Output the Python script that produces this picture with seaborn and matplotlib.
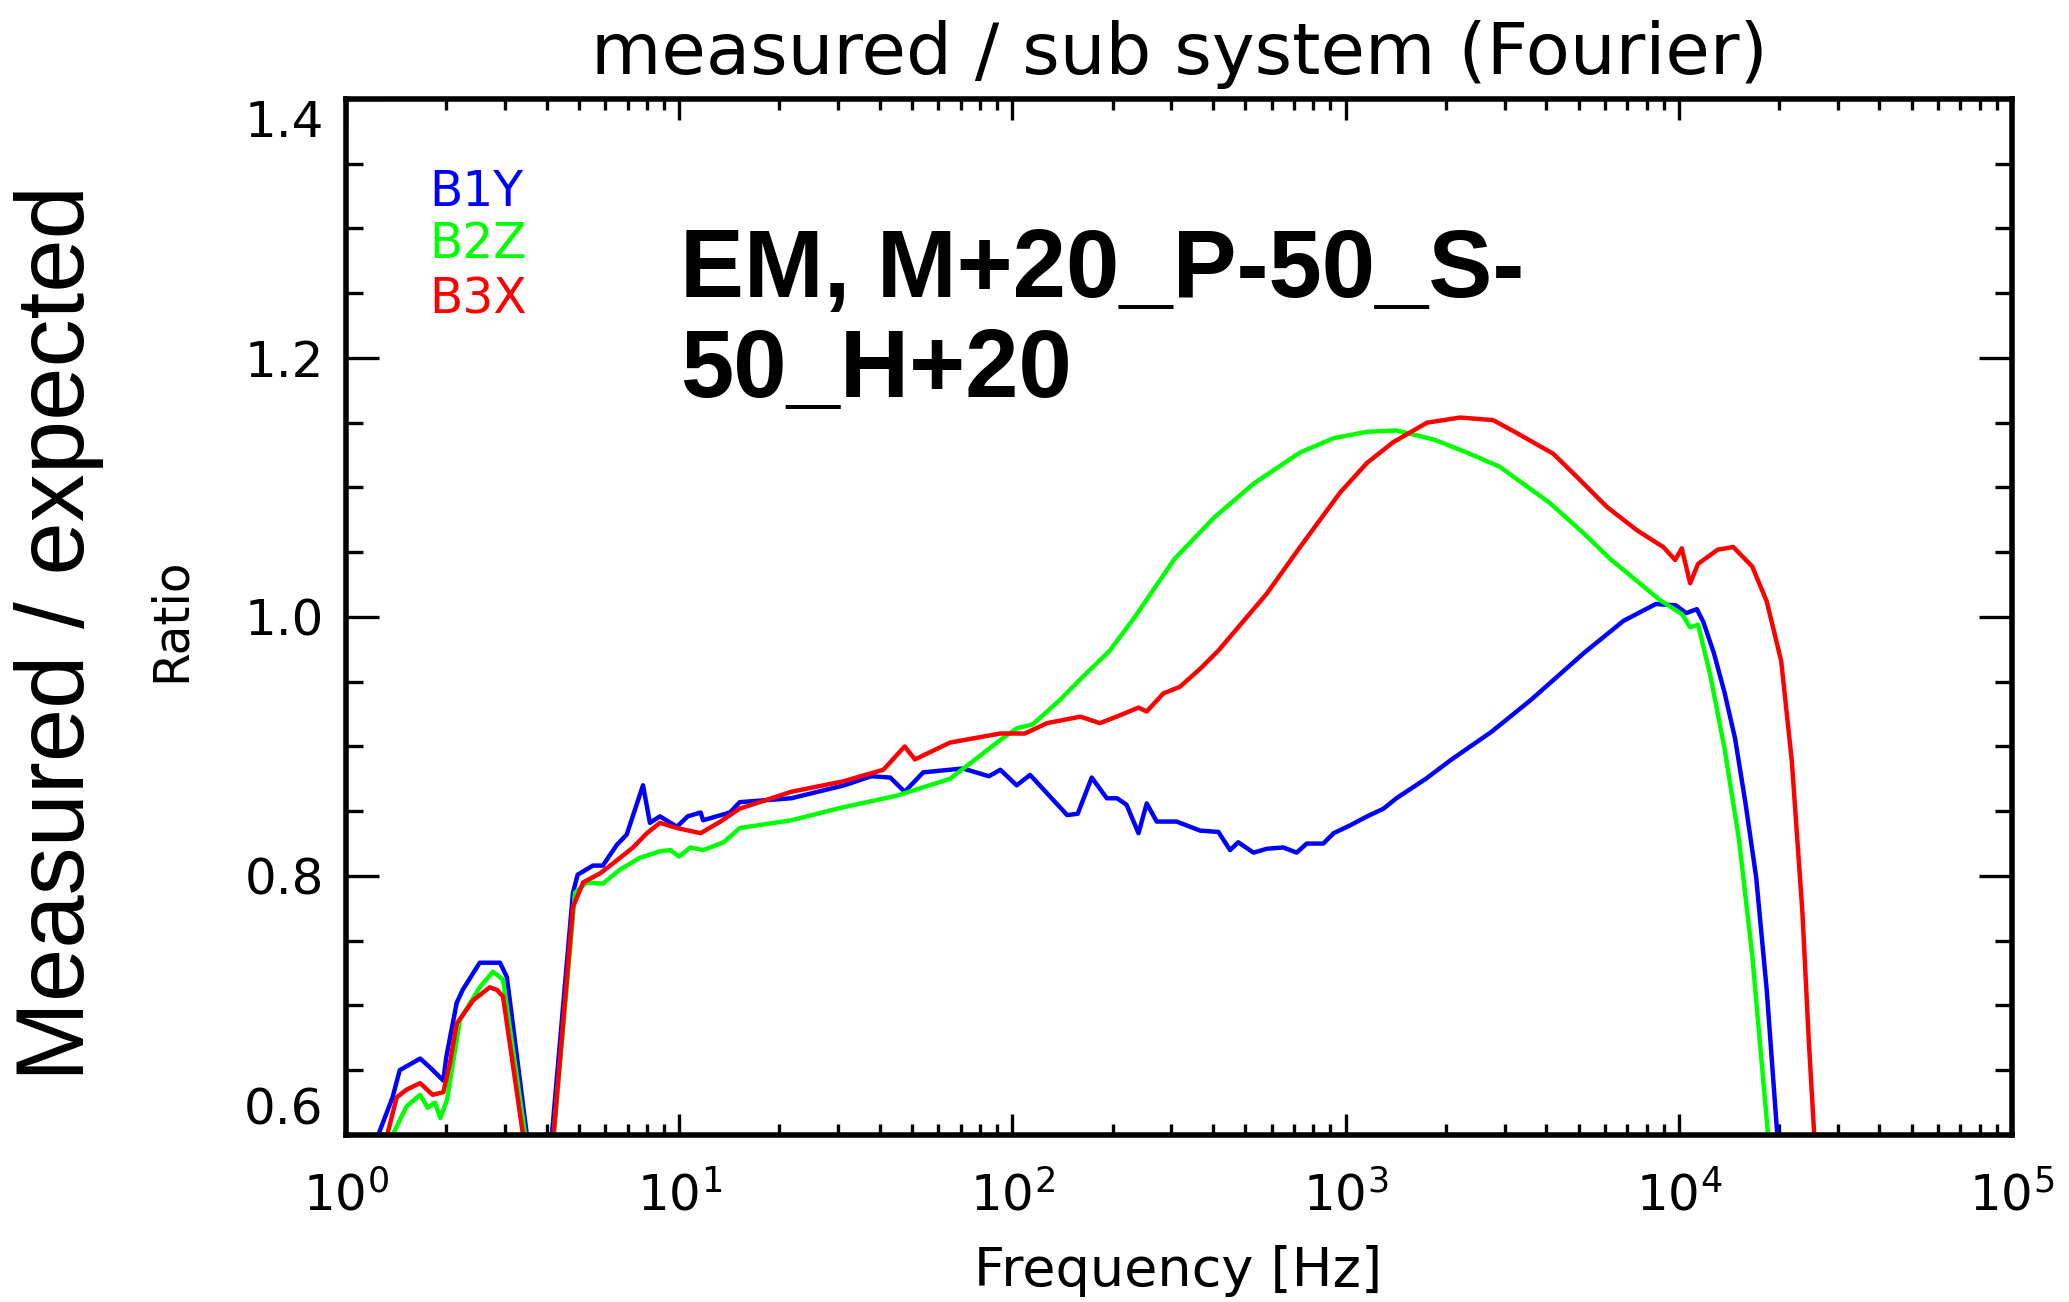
import numpy as np
import pandas as pd
import matplotlib
matplotlib.use("Agg")
import matplotlib.pyplot as plt
import seaborn as sns
from matplotlib.ticker import MultipleLocator, LogLocator, FixedLocator, NullFormatter

# --- data (frequency in Hz, ratio) ---
b1y_freq = [1.22, 1.25, 1.38, 1.45, 1.67, 1.79, 1.96, 2.0, 2.15, 2.24, 2.52, 2.9, 3.04, 3.49, 3.8,
            4.15, 4.8, 4.96, 5.51, 5.9, 6.5, 6.96, 7.79, 8.17, 8.75, 9.85, 10.6, 11.6, 11.8, 14.2,
            15.2, 21.7, 31.3, 37.7, 43, 47.5, 54, 71, 85, 92, 103, 113, 146, 157, 173, 192, 206,
            220, 239, 253, 271, 311, 366, 415, 450, 476, 529, 580, 650, 713, 764, 857, 920, 1030,
            1160, 1300, 1420, 1740, 2080, 2730, 3600, 5180, 6820, 8530, 9780, 10520, 11320, 11850,
            12740, 13700, 14750, 15850, 17060, 18350, 19740, 20500]
b1y_ratio = [0.59, 0.60, 0.629, 0.65, 0.659, 0.652, 0.642, 0.66, 0.702, 0.712, 0.733, 0.733, 0.722,
             0.60, 0.50, 0.60, 0.787, 0.801, 0.808, 0.808, 0.824, 0.832, 0.870, 0.841, 0.846, 0.838,
             0.846, 0.849, 0.843, 0.849, 0.857, 0.860, 0.870, 0.877, 0.876, 0.865, 0.880, 0.883,
             0.877, 0.882, 0.870, 0.878, 0.847, 0.848, 0.876, 0.860, 0.860, 0.855, 0.833, 0.856,
             0.842, 0.842, 0.835, 0.834, 0.820, 0.826, 0.818, 0.821, 0.822, 0.818, 0.825, 0.825,
             0.833, 0.839, 0.846, 0.852, 0.860, 0.875, 0.890, 0.911, 0.936, 0.972, 0.997, 1.010,
             1.009, 1.003, 1.006, 0.996, 0.972, 0.942, 0.906, 0.856, 0.799, 0.712, 0.600, 0.50]

b2z_freq = [1.36, 1.38, 1.52, 1.67, 1.76, 1.85, 1.92, 2.01, 2.2, 2.52, 2.76, 2.96, 3.45, 3.8, 4.2,
            4.87, 5.28, 5.9, 6.65, 7.62, 8.75, 9.4, 10.0, 10.8, 11.8, 13.6, 15.2, 21.7, 31, 45, 65,
            92, 103, 115, 139, 163, 196, 233, 307, 404, 530, 730, 920, 1160, 1420, 1840, 2310,
            2900, 4100, 5160, 6210, 8780, 10240, 10810, 11420, 12400, 13700, 15150, 16600, 18520,
            19500]
b2z_ratio = [0.59, 0.60, 0.622, 0.631, 0.621, 0.625, 0.613, 0.627, 0.689, 0.714, 0.726, 0.720, 0.60,
             0.50, 0.60, 0.787, 0.795, 0.794, 0.805, 0.814, 0.819, 0.820, 0.815, 0.822, 0.820, 0.826,
             0.837, 0.843, 0.853, 0.862, 0.875, 0.905, 0.914, 0.917, 0.936, 0.954, 0.974, 1.000,
             1.045, 1.077, 1.103, 1.127, 1.138, 1.143, 1.144, 1.137, 1.127, 1.116, 1.088, 1.065,
             1.045, 1.013, 1.002, 0.992, 0.994, 0.956, 0.899, 0.828, 0.739, 0.600, 0.50]

b3x_freq = [1.31, 1.33, 1.42, 1.52, 1.67, 1.82, 1.96, 2.05, 2.15, 2.41, 2.70, 2.84, 2.96, 3.40, 3.8,
            4.2, 4.8, 5.15, 5.79, 6.5, 7.27, 8.0, 8.75, 9.85, 11.6, 13.3, 15.2, 21.7, 31, 41, 47.5,
            51, 65, 92, 109, 127, 160, 183, 210, 239, 253, 284, 318, 366, 415, 580, 730, 962, 1160,
            1390, 1755, 2205, 2770, 3265, 4200, 4950, 6080, 7480, 8980, 9750, 10200, 10810, 11420,
            13090, 14560, 16600, 18350, 20280, 21820, 23480, 24550, 25480, 26000]
b3x_ratio = [0.59, 0.60, 0.629, 0.635, 0.640, 0.631, 0.633, 0.655, 0.686, 0.704, 0.714, 0.712, 0.707,
             0.60, 0.50, 0.60, 0.776, 0.795, 0.802, 0.812, 0.822, 0.833, 0.841, 0.837, 0.833, 0.842,
             0.852, 0.865, 0.873, 0.882, 0.900, 0.890, 0.903, 0.910, 0.910, 0.918, 0.923, 0.918,
             0.924, 0.930, 0.927, 0.941, 0.946, 0.960, 0.974, 1.018, 1.054, 1.096, 1.119, 1.135,
             1.150, 1.154, 1.152, 1.142, 1.126, 1.108, 1.085, 1.067, 1.054, 1.044, 1.053, 1.026,
             1.041, 1.052, 1.054, 1.039, 1.012, 0.966, 0.889, 0.772, 0.672, 0.600, 0.50]

series_names = ["B1Y", "B2Z", "B3X"]
series_colors = {"B1Y": "#0000ff", "B2Z": "#00ff00", "B3X": "#ff0000"}

df = pd.concat([
    pd.DataFrame({"freq": b1y_freq, "ratio": b1y_ratio, "series": "B1Y"}),
    pd.DataFrame({"freq": b2z_freq, "ratio": b2z_ratio, "series": "B2Z"}),
    pd.DataFrame({"freq": b3x_freq, "ratio": b3x_ratio, "series": "B3X"}),
], ignore_index=True)

sns.set_style("white")
plt.rcParams["font.family"] = ["DejaVu Sans"]
plt.rcParams["text.color"] = "black"
plt.rcParams["axes.labelcolor"] = "black"
plt.rcParams["xtick.color"] = "black"
plt.rcParams["ytick.color"] = "black"

fig = plt.figure(figsize=(20.69, 13.02), dpi=100)
ax = fig.add_axes([0.1672, 0.1283, 0.8053, 0.7957])

sns.lineplot(data=df, x="freq", y="ratio", hue="series", palette=series_colors,
             estimator=None, sort=False, legend=False, lw=3.2, ax=ax)

ax.set_xscale("log")
ax.set_xlim(1, 1e5)
ax.set_ylim(0.6, 1.4)

ax.yaxis.set_major_locator(FixedLocator([0.6, 0.8, 1.0, 1.2, 1.4]))
ax.yaxis.set_minor_locator(MultipleLocator(0.05))
ax.set_yticklabels(["0.6", "0.8", "1.0", "1.2", "1.4"])
ax.xaxis.set_major_locator(LogLocator(base=10, numticks=10))
ax.xaxis.set_minor_locator(LogLocator(base=10, subs=np.arange(2, 10), numticks=100))
ax.xaxis.set_minor_formatter(NullFormatter())

# IDL look: ticks inside on all four sides
ax.tick_params(which="both", direction="in", bottom=True, top=True, left=True, right=True,
               colors="black", width=2.4)
ax.tick_params(axis="y", which="major", length=24, pad=16, labelsize=36)
ax.tick_params(axis="y", which="minor", length=12)
ax.tick_params(axis="x", which="major", length=15, pad=26, labelsize=36)
ax.tick_params(axis="x", which="minor", length=8)

# IDL keeps the end labels inside the axis range
yt = ax.yaxis.get_major_ticks()
yt[0].label1.set_va("bottom")
yt[-1].label1.set_va("top")

for s in ax.spines.values():
    s.set_linewidth(4)
    s.set_color("black")

ax.set_xlabel("")
ax.set_ylabel("")
ax.set_title("measured / sub system (Fourier)", fontsize=52, pad=18, color="black")

fig.text(0.5693, 0.0238, "Frequency [Hz]", fontsize=39, ha="center", va="center")
fig.text(0.0827, 0.524, "Ratio", fontsize=35, rotation=90, ha="center", va="center")

# coloured series names in the corner
for name, yy in zip(series_names, [0.910, 0.860, 0.806]):
    ax.text(0.05, yy, name, color=series_colors[name], fontsize=35,
            transform=ax.transAxes, ha="left", va="center")

# overlay annotations
fig.text(0.0287, 0.514, "Measured / expected", fontsize=69, rotation=90,
         family="Liberation Sans", ha="center", va="center")
fig.text(0.3287, 0.826, "EM, M+20_P-50_S-\n50_H+20", fontsize=69, fontweight="bold",
         family="Liberation Sans", ha="left", va="top", linespacing=1.15)

fig.savefig("out.png", dpi=100)
